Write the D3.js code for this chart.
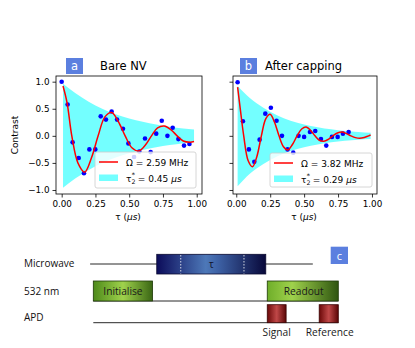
<!DOCTYPE html>
<html><head><meta charset="utf-8">
<script src="https://cdn.jsdelivr.net/npm/d3@7"></script>
<style>
body{margin:0;background:#fff}
svg{display:block}
text{font-family:"DejaVu Sans",sans-serif}
.diag text{font-family:"Open Sans",sans-serif}
</style></head><body>
<svg id="c" width="415" height="348"></svg>
<script>
// ---------------- data ----------------
const xTicks = [0, 0.25, 0.5, 0.75, 1.0];
const yTicks = [-1, -0.5, 0, 0.5, 1];

// panel a: Bare NV
const tauA = [0.0,0.044,0.081,0.126,0.165,0.205,0.249,0.289,0.328,0.37,0.41,0.454,0.494,0.536,0.575,0.617,0.659,0.70,0.741,0.783,0.822,0.864,0.906,0.946];
const contrastA = [1.0,0.58,-0.12,-0.41,-0.69,-0.25,-0.25,0.36,0.30,0.45,0.30,0.13,-0.14,-0.39,-0.29,-0.05,-0.30,0.04,0.28,0.0,0.15,-0.06,-0.18,-0.15];
const fitTauA = [0.01,0.04,0.075,0.12,0.17,0.22,0.27,0.32,0.37,0.42,0.47,0.52,0.57,0.62,0.665,0.71,0.76,0.81,0.855,0.90,0.95,0.98];
const fitA = [0.92,0.61,0.0,-0.50,-0.67,-0.41,0.0,0.35,0.43,0.26,0.0,-0.22,-0.28,-0.17,0.0,0.145,0.18,0.11,0.0,-0.095,-0.117,-0.105];
const bandTauA = [0.01,0.1,0.2,0.3,0.4,0.5,0.6,0.7,0.8,0.9,0.98];
const bandUpA = [0.96,0.79,0.63,0.50,0.40,0.32,0.26,0.21,0.17,0.135,0.115];
const bandLoA = [-0.96,-0.79,-0.63,-0.50,-0.40,-0.32,-0.26,-0.21,-0.17,-0.135,-0.11];

// panel b: After capping
const tauB = [0.01,0.049,0.093,0.133,0.172,0.214,0.255,0.297,0.337,0.378,0.42,0.459,0.50,0.543,0.582,0.624,0.663,0.705,0.747,0.786,0.828];
const contrastB = [0.99,0.27,-0.25,-0.48,-0.07,0.41,0.52,0.28,0.0,-0.25,-0.31,0.0,-0.02,0.07,0.09,-0.06,-0.18,-0.02,-0.02,0.04,0.07];
const fitTauB = [0.01,0.03,0.055,0.088,0.12,0.152,0.185,0.218,0.25,0.282,0.315,0.348,0.38,0.414,0.448,0.482,0.515,0.548,0.58,0.612,0.645,0.678,0.712,0.745,0.78,0.812,0.845,0.878,0.91,0.943,0.975,0.99];
const fitB = [0.90,0.49,0.0,-0.46,-0.57,-0.38,0.0,0.32,0.40,0.25,0.0,-0.20,-0.26,-0.16,0.0,0.127,0.165,0.10,0.0,-0.081,-0.10,-0.065,0.0,0.052,0.07,0.041,0.0,-0.033,-0.045,-0.03,0.0,0.015];
const bandTauB = [0.01,0.1,0.2,0.3,0.4,0.5,0.6,0.7,0.8,0.9,0.99];
const bandUpB = [0.92,0.70,0.52,0.38,0.28,0.21,0.16,0.12,0.09,0.07,0.055];
const bandLoB = [-0.93,-0.70,-0.52,-0.38,-0.28,-0.21,-0.16,-0.12,-0.09,-0.07,-0.06];

const panelLetters = ["a","b"];
const panelTitles = ["Bare NV","After capping"];
const omegaLabels = ["2.59 MHz","3.82 MHz"];
const t2Labels = ["0.45","0.29"];

// pulse diagram (normalised time 0..1)
const rowNames = ["Microwave","532 nm","APD"];
const mwLine = [-0.013, 0.896];
const mwPulse = [0.259, 0.704];
const mwDashes = [0.357, 0.615];
const laserPulses = [{name:"Initialise", s:0, e:0.242}, {name:"Readout", s:0.71, e:1.0}];
const apdPulses = [{name:"Signal", s:0.71, e:0.787}, {name:"Reference", s:0.922, e:1.0}];

// ---------------- drawing ----------------
const svg = d3.select("#c");
const defs = svg.append("defs");
function hgrad(id, stops){
  const g = defs.append("linearGradient").attr("id", id).attr("x1","0%").attr("x2","100%").attr("y1","0%").attr("y2","0%");
  stops.forEach(([o,c]) => g.append("stop").attr("offset", o).attr("stop-color", c));
}
hgrad("gBlue", [["0%","#0c0c5a"],["45%","#4d78b8"],["55%","#3f64a8"],["100%","#08083a"]]);
hgrad("gGreen", [["0%","#4e8a1a"],["50%","#9fd24c"],["100%","#3a6614"]]);
hgrad("gGreen2", [["0%","#6fae2a"],["35%","#9fd24c"],["100%","#2f5510"]]);
hgrad("gRed", [["0%","#6a0808"],["50%","#c04848"],["100%","#5a0606"]]);

const BADGE = "#5b7fdf";
const yDomain = [-1.074, 1.105];
const panels = [
  {left:56, top:76, w:146, h:118, xd:[-0.042,1.039], tau:tauA, c:contrastA, ft:fitTauA, f:fitA, bt:bandTauA, bu:bandUpA, bl:bandLoA, showY:true,
   badgeX:66, titleX:100, leg:{x:95,y:152,w:101,h:36}},
  {left:233, top:76, w:144, h:118, xd:[-0.024,1.037], tau:tauB, c:contrastB, ft:fitTauB, f:fitB, bt:bandTauB, bu:bandUpB, bl:bandLoB, showY:false,
   badgeX:240, titleX:265, leg:{x:270,y:153,w:102,h:34}}
];

panels.forEach((p, i) => {
  const x = d3.scaleLinear().domain(p.xd).range([p.left, p.left + p.w]);
  const y = d3.scaleLinear().domain(yDomain).range([p.top + p.h, p.top]);
  const g = svg.append("g");
  const clipId = "clip" + i;
  defs.append("clipPath").attr("id", clipId).append("rect")
    .attr("x", p.left).attr("y", p.top).attr("width", p.w).attr("height", p.h);
  const plot = g.append("g").attr("clip-path", `url(#${clipId})`);

  // band
  const bandData = p.bt.map((t, k) => ({t, u: p.bu[k], l: p.bl[k]}));
  plot.append("path").datum(bandData)
    .attr("d", d3.area().x(d => x(d.t)).y0(d => y(d.l)).y1(d => y(d.u)).curve(d3.curveMonotoneX))
    .attr("fill", "#00ffff").attr("fill-opacity", 0.55);
  // data points
  plot.selectAll("circle").data(p.tau.map((t, k) => [t, p.c[k]])).join("circle")
    .attr("cx", d => x(d[0])).attr("cy", d => y(d[1])).attr("r", 2.3).attr("fill", "#0000ff");
  // fit line
  plot.append("path").datum(p.ft.map((t, k) => [t, p.f[k]]))
    .attr("d", d3.line().x(d => x(d[0])).y(d => y(d[1])).curve(d3.curveCatmullRom.alpha(0.5)))
    .attr("fill", "none").attr("stroke", "#ff0000").attr("stroke-width", 1.5);

  // axes
  const xa = g.append("g").attr("transform", `translate(0,${p.top + p.h})`)
    .call(d3.axisBottom(x).tickValues(xTicks).tickFormat(d3.format(".2f")).tickSize(3.5).tickPadding(3));
  const ya = g.append("g").attr("transform", `translate(${p.left},0)`)
    .call(d3.axisLeft(y).tickValues(yTicks).tickFormat(p.showY ? d3.format(".1f") : () => "").tickSize(3.5).tickPadding(3));
  [xa, ya].forEach(a => {
    a.select(".domain").remove();
    a.selectAll(".tick line").attr("stroke", "#000").attr("stroke-width", 0.8);
    a.selectAll(".tick text").attr("font-size", 8.8).attr("fill", "#000").attr("font-family", "DejaVu Sans");
  });
  g.append("rect").attr("x", p.left).attr("y", p.top).attr("width", p.w).attr("height", p.h)
    .attr("fill", "none").attr("stroke", "#000").attr("stroke-width", 0.8);

  // x label
  const xl = g.append("text").attr("x", p.left + p.w / 2 - 1).attr("y", 220).attr("text-anchor", "middle").attr("font-size", 9);
  xl.append("tspan").text("τ (");
  xl.append("tspan").attr("font-style", "italic").text("μs");
  xl.append("tspan").text(")");
  if (p.showY) {
    g.append("text").attr("transform", `translate(17.5,${p.top + p.h / 2}) rotate(-90)`)
      .attr("text-anchor", "middle").attr("font-size", 9).text("Contrast");
  }

  // badge + title
  g.append("rect").attr("x", p.badgeX).attr("y", 58).attr("width", 17).attr("height", 16).attr("fill", BADGE);
  g.append("text").attr("x", p.badgeX + 8.5).attr("y", 70).attr("text-anchor", "middle")
    .attr("font-size", 11.5).attr("fill", "#fff").text(panelLetters[i]);
  g.append("text").attr("x", p.titleX).attr("y", 70).attr("font-size", 11.5).attr("fill", "#000").text(panelTitles[i]);

  // legend
  const L = p.leg;
  const lg = g.append("g");
  lg.append("rect").attr("x", L.x).attr("y", L.y).attr("width", L.w).attr("height", L.h).attr("rx", 2)
    .attr("fill", "#fff").attr("fill-opacity", 0.8).attr("stroke", "#cccccc").attr("stroke-width", 0.8);
  lg.append("line").attr("x1", L.x + 4).attr("x2", L.x + 23).attr("y1", L.y + 10).attr("y2", L.y + 10)
    .attr("stroke", "#ff0000").attr("stroke-width", 1.5);
  lg.append("text").attr("x", L.x + 31).attr("y", L.y + 13.5).attr("font-size", 9).text("Ω = " + omegaLabels[i]);
  lg.append("rect").attr("x", L.x + 4).attr("y", L.y + 22.5).attr("width", 19).attr("height", 6.5)
    .attr("fill", "#00ffff").attr("fill-opacity", 0.55);
  const t2 = lg.append("text").attr("x", L.x + 31).attr("y", L.y + 29.5).attr("font-size", 9);
  t2.append("tspan").text("τ");
  t2.append("tspan").attr("font-size", 6.3).attr("dy", 2).text("2");
  t2.append("tspan").attr("font-size", 6.3).attr("dx", -3.6).attr("dy", -6.5).text("*");
  t2.append("tspan").attr("dy", 4.5).text(" = " + t2Labels[i] + " ");
  t2.append("tspan").attr("font-style", "italic").text("μs");
});

// ---------------- pulse diagram ----------------
const d = svg.append("g").attr("class", "diag");
const tx = d3.scaleLinear().domain([0, 1]).range([93.3, 338.3]);
const rowY = [266.5, 295, 320.5];
rowNames.forEach((n, k) => d.append("text").attr("x", 24).attr("y", rowY[k]).attr("font-size", 10).attr("fill", "#111").text(n));

// microwave
d.append("line").attr("x1", tx(mwLine[0])).attr("x2", tx(mwLine[1])).attr("y1", 264).attr("y2", 264).attr("stroke", "#111").attr("stroke-width", 0.9);
d.append("rect").attr("x", tx(mwPulse[0])).attr("y", 254.3).attr("width", tx(mwPulse[1]) - tx(mwPulse[0])).attr("height", 19.7)
  .attr("fill", "url(#gBlue)").attr("stroke", "#0a0a30").attr("stroke-width", 0.8);
mwDashes.forEach(v => d.append("line").attr("x1", tx(v)).attr("x2", tx(v)).attr("y1", 255).attr("y2", 273.5)
  .attr("stroke", "#fff").attr("stroke-width", 0.8).attr("stroke-dasharray", "1.5,1.5"));
d.append("text").attr("x", tx((mwPulse[0] + mwPulse[1]) / 2)).attr("y", 267.5).attr("text-anchor", "middle")
  .attr("font-size", 10).attr("fill", "#10102a").text("τ");
// badge c
d.append("rect").attr("x", 330.7).attr("y", 246.7).attr("width", 17.3).attr("height", 17.3).attr("fill", BADGE);
d.append("text").attr("x", 339.3).attr("y", 259.5).attr("text-anchor", "middle").attr("font-size", 11).attr("fill", "#fff").text("c");

// 532 nm
d.append("line").attr("x1", tx(0)).attr("x2", tx(1)).attr("y1", 301).attr("y2", 301).attr("stroke", "#111").attr("stroke-width", 0.9);
laserPulses.forEach((pl, k) => {
  d.append("rect").attr("x", tx(pl.s)).attr("y", 281).attr("width", tx(pl.e) - tx(pl.s)).attr("height", 20)
    .attr("fill", k === 0 ? "url(#gGreen)" : "url(#gGreen2)").attr("stroke", "#1f3a08").attr("stroke-width", 0.8);
  d.append("text").attr("x", (tx(pl.s) + tx(pl.e)) / 2 + (k === 0 ? 0 : 1)).attr("y", 294.8).attr("text-anchor", "middle")
    .attr("font-size", 10.2).attr("fill", "#1a1a1a").text(pl.name);
});

// APD
d.append("line").attr("x1", tx(0)).attr("x2", tx(1)).attr("y1", 322.7).attr("y2", 322.7).attr("stroke", "#111").attr("stroke-width", 0.9);
apdPulses.forEach(pl => {
  d.append("rect").attr("x", tx(pl.s)).attr("y", 304.7).attr("width", tx(pl.e) - tx(pl.s)).attr("height", 18)
    .attr("fill", "url(#gRed)").attr("stroke", "#3a0505").attr("stroke-width", 0.8);
  d.append("text").attr("x", (tx(pl.s) + tx(pl.e)) / 2 + (pl.name === "Reference" ? 1 : 0)).attr("y", 335.8).attr("text-anchor", "middle")
    .attr("font-size", 10.2).attr("fill", "#1a1a1a").text(pl.name);
});
</script>
</body></html>
